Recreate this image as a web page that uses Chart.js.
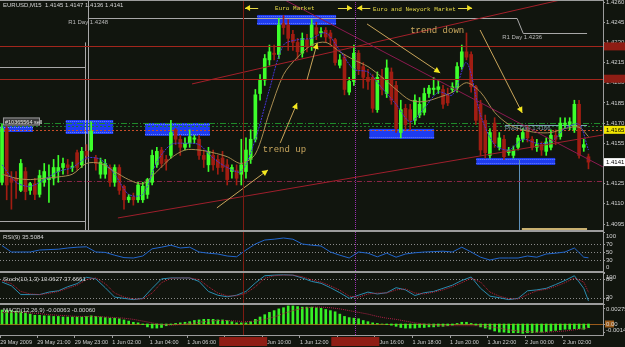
<!DOCTYPE html>
<html>
<head>
<meta charset="utf-8">
<script src="https://cdn.jsdelivr.net/npm/chart.js@4.4.1/dist/chart.umd.min.js"></script>
<style>
  html, body { margin: 0; padding: 0; background: #11150e; }
  #wrap { position: relative; width: 625px; height: 347px; }
</style>
</head>
<body>
<div id="wrap"><canvas id="mt4" width="625" height="347"></canvas></div>
<script>
// Tidsaxel (M15-staplar, index 0..125)
const timeLabels = ['29 May 2009', '29 May 21:00', '29 May 23:00', '1 Jun 02:00', '1 Jun 04:00', '1 Jun 06:00',
  '1 Jun 08:00', '1 Jun 10:00', '1 Jun 12:00', '1 Jun 14:00', '1 Jun 16:00', '1 Jun 18:00', '1 Jun 20:00',
  '1 Jun 22:00', '2 Jun 00:00', '2 Jun 02:00'];
const tickBars = [-0.4, 7.5, 15.5, 23.5, 31.5, 39.5, 47.5, 55.5, 63.5, 71.5, 79.5, 87.5, 95.5, 103.5, 111.5, 119.5];
const priceTicks = [1.4095, 1.4110, 1.4125, 1.4140, 1.4155, 1.4170, 1.4185, 1.4200, 1.4215, 1.4230, 1.4245, 1.4260];
const rsiTicks = [100, 70, 50, 30, 0];
const stochTicks = [100, 80, 20, 0];
const macdTicks = [0.00275, 0, -0.00146];
const macdTickLabels = ['0.00275', '0.00', '-0.00146'];

// EURUSD M15
const opens = [1.4126,1.4166,1.4129,1.4129,1.4120,1.4134,1.4120,1.4125,1.4117,1.4126,
  1.4128,1.4129,1.4134,1.4137,1.4139,1.4137,1.4148,1.4139,1.4149,1.4150,
  1.4144,1.4132,1.4132,1.4137,1.4126,1.4137,1.4123,1.4113,1.4115,1.4113,
  1.4113,1.4117,1.4126,1.4139,1.4150,1.4143,1.4146,1.4165,1.4158,1.4152,
  1.4155,1.4158,1.4158,1.4146,1.4139,1.4146,1.4143,1.4144,1.4139,1.4134,
  1.4135,1.4132,1.4134,1.4143,1.4158,1.4192,1.4202,1.4217,1.4222,1.4221,
  1.4244,1.4243,1.4236,1.4230,1.4222,1.4232,1.4227,1.4241,1.4237,1.4239,
  1.4237,1.4232,1.4213,1.4219,1.4193,1.4201,1.4222,1.4212,1.4204,1.4204,
  1.4180,1.4204,1.4192,1.4208,1.4198,1.4163,1.4181,1.4180,1.4172,1.4176,
  1.4178,1.4192,1.4195,1.4195,1.4195,1.4191,1.4195,1.4196,1.4212,1.4223,
  1.4221,1.4197,1.4184,1.4172,1.4146,1.4170,1.4152,1.4158,1.4148,1.4146,
  1.4152,1.4158,1.4165,1.4158,1.4152,1.4154,1.4149,1.4152,1.4161,1.4160,
  1.4169,1.4169,1.4165,1.4184,1.4152,1.4145];
const highs = [1.4169,1.4168,1.4134,1.4134,1.4143,1.4137,1.4126,1.4129,1.4135,1.4140,
  1.4139,1.4143,1.4146,1.4144,1.4143,1.4141,1.4150,1.4152,1.4154,1.4171,
  1.4146,1.4144,1.4143,1.4139,1.4139,1.4139,1.4124,1.4117,1.4118,1.4126,
  1.4126,1.4129,1.4150,1.4152,1.4152,1.4146,1.4172,1.4166,1.4161,1.4159,
  1.4165,1.4161,1.4161,1.4150,1.4152,1.4150,1.4146,1.4149,1.4143,1.4139,
  1.4139,1.4158,1.4159,1.4165,1.4195,1.4206,1.4221,1.4228,1.4228,1.4248,
  1.4250,1.4247,1.4239,1.4233,1.4237,1.4236,1.4247,1.4245,1.4241,1.4241,
  1.4239,1.4233,1.4221,1.4221,1.4204,1.4228,1.4224,1.4215,1.4210,1.4206,
  1.4208,1.4210,1.4217,1.4211,1.4201,1.4187,1.4184,1.4184,1.4191,1.4189,
  1.4196,1.4198,1.4204,1.4202,1.4198,1.4196,1.4200,1.4215,1.4228,1.4237,
  1.4223,1.4198,1.4187,1.4176,1.4166,1.4174,1.4163,1.4161,1.4152,1.4153,
  1.4161,1.4166,1.4168,1.4160,1.4158,1.4156,1.4159,1.4165,1.4165,1.4174,
  1.4174,1.4174,1.4187,1.4187,1.4158,1.4147];
const lows = [1.4124,1.4113,1.4106,1.4114,1.4119,1.4113,1.4117,1.4113,1.4115,1.4123,
  1.4111,1.4124,1.4126,1.4132,1.4132,1.4134,1.4135,1.4137,1.4143,1.4149,
  1.4135,1.4129,1.4129,1.4123,1.4123,1.4117,1.4106,1.4111,1.4109,1.4111,
  1.4111,1.4114,1.4124,1.4137,1.4137,1.4135,1.4144,1.4154,1.4146,1.4150,
  1.4152,1.4155,1.4143,1.4137,1.4134,1.4135,1.4132,1.4134,1.4124,1.4129,
  1.4124,1.4124,1.4129,1.4140,1.4156,1.4187,1.4198,1.4213,1.4217,1.4218,
  1.4236,1.4224,1.4224,1.4218,1.4219,1.4223,1.4224,1.4232,1.4234,1.4230,
  1.4228,1.4213,1.4211,1.4191,1.4191,1.4198,1.4206,1.4196,1.4195,1.4178,
  1.4178,1.4191,1.4189,1.4184,1.4163,1.4159,1.4165,1.4165,1.4169,1.4174,
  1.4176,1.4189,1.4191,1.4192,1.4181,1.4183,1.4193,1.4193,1.4210,1.4217,
  1.4193,1.4169,1.4146,1.4144,1.4144,1.4152,1.4150,1.4143,1.4146,1.4144,
  1.4150,1.4156,1.4156,1.4150,1.4149,1.4146,1.4146,1.4150,1.4154,1.4158,
  1.4166,1.4165,1.4163,1.4144,1.4149,1.4136];
const closes = [1.4166,1.4124,1.4126,1.4127,1.4140,1.4119,1.4125,1.4117,1.4131,1.4134,
  1.4129,1.4137,1.4137,1.4140,1.4137,1.4138,1.4137,1.4149,1.4146,1.4164,
  1.4140,1.4141,1.4140,1.4126,1.4137,1.4120,1.4113,1.4115,1.4113,1.4124,
  1.4123,1.4128,1.4146,1.4149,1.4140,1.4141,1.4163,1.4158,1.4152,1.4155,
  1.4160,1.4159,1.4146,1.4143,1.4149,1.4139,1.4137,1.4137,1.4128,1.4137,
  1.4129,1.4139,1.4150,1.4158,1.4191,1.4202,1.4218,1.4223,1.4221,1.4243,
  1.4241,1.4233,1.4230,1.4223,1.4233,1.4227,1.4243,1.4236,1.4238,1.4234,
  1.4233,1.4215,1.4217,1.4195,1.4201,1.4222,1.4210,1.4204,1.4201,1.4181,
  1.4204,1.4195,1.4211,1.4187,1.4166,1.4180,1.4169,1.4172,1.4187,1.4184,
  1.4192,1.4196,1.4196,1.4197,1.4184,1.4185,1.4197,1.4212,1.4223,1.4219,
  1.4197,1.4172,1.4150,1.4148,1.4163,1.4155,1.4159,1.4145,1.4150,1.4150,
  1.4159,1.4163,1.4159,1.4152,1.4154,1.4150,1.4156,1.4161,1.4158,1.4170,
  1.4170,1.4171,1.4184,1.4146,1.4154,1.4141];

// Glidande medelvärden, avlästa var 3:e stapel
const maBars = [...Array(42).keys()].map(k => k * 3).concat([125]);
const slowMa = [1.4132,1.4129,1.4128,1.4129,1.4130,1.4132,1.4140,1.4140,1.4134,1.4128,
  1.4125,1.4134,1.4144,1.4150,1.4150,1.4148,1.4145,1.4140,1.4147,1.4178,
  1.4206,1.4219,1.4228,1.4230,1.4223,1.4217,1.4212,1.4204,1.4195,1.4187,
  1.4186,1.4189,1.4193,1.4200,1.4193,1.4178,1.4169,1.4165,1.4163,1.4163,
  1.4166,1.4167,1.4160];
const fastMa = [1.4139,1.4126,1.4123,1.4128,1.4134,1.4137,1.4144,1.4143,1.4132,1.4117,
  1.4117,1.4141,1.4154,1.4155,1.4154,1.4144,1.4137,1.4134,1.4158,1.4195,
  1.4228,1.4232,1.4233,1.4237,1.4224,1.4210,1.4208,1.4196,1.4184,1.4171,
  1.4181,1.4193,1.4191,1.4215,1.4176,1.4154,1.4150,1.4158,1.4155,1.4156,
  1.4166,1.4169,1.4150];

// Indikatorer, avlästa var 2:a stapel
const subBars = [...Array(63).keys()].map(k => k * 2).concat([125]);
const rsi = [66,50,50,50,55,56,57,60,62,63, 50,49,42,36,35,40,58,62,67,60,
  62,50,47,45,40,38,55,70,80,82, 85,82,70,67,65,50,42,35,50,47,
  38,47,37,45,48,50,51,52,50,62, 50,37,30,35,35,35,40,37,45,47,
  50,60,37,35.5];
const stochMain = [70,58,30,30,30,38,42,55,65,85, 80,52,22,18,14,18,50,80,83,83,
  83,72,40,28,23,28,40,67,90,92, 93,92,83,72,66,52,36,18,28,38,
  32,36,52,45,27,36,40,50,60,75, 86,50,25,20,14,18,42,45,50,62,
  75,90,50,10.06];
const stochSignal = [75,65,40,32,30,34,40,50,60,78, 83,65,35,22,16,16,35,68,82,83,
  83,78,55,35,26,26,34,55,82,90, 92,92,87,77,70,58,44,25,22,32,
  35,35,45,48,35,32,38,45,55,68, 82,70,38,25,17,16,30,42,47,56,
  68,83,70,37.67];
const macdSignal = [0.0020,0.0020,0.0020,0.0019,0.0018,0.0016,0.0015,0.0014,0.0013,0.0013,
  0.0013,0.0012,0.0011,0.0010,0.0008,0.0005,0.0002,-0.0001,-0.0002,-0.0001,
  0.0001,0.0003,0.0005,0.0006,0.0006,0.0005,0.0004,0.0005,0.0008,0.0012,
  0.0018,0.0023,0.0027,0.0029,0.0029,0.0028,0.0026,0.0023,0.0020,0.0017,
  0.0013,0.0010,0.0008,0.0005,0.0002,0.0000,-0.0002,-0.0003,-0.0003,-0.0003,
  -0.0003,-0.0003,-0.0005,-0.0007,-0.0010,-0.0012,-0.0013,-0.0014,-0.0014,-0.0013,
  -0.0012,-0.0010,-0.0008,-0.0006];
const macdMain = [0.0024,0.0024,0.0023,0.0022,0.0021,0.0019,0.0017,0.0015,0.0015,0.0014,
  0.0014,0.0013,0.0013,0.0012,0.0012,0.0012,0.0012,0.0012,0.0013,0.0014,
  0.0013,0.0012,0.0011,0.0010,0.0010,0.0009,0.0007,0.0005,0.0003,0.0002,
  -0.0001,-0.0005,-0.0007,-0.0007,-0.0006,-0.0003,-0.0001,0.0001,0.0002,0.0003,
  0.0004,0.0006,0.0007,0.0008,0.0008,0.0008,0.0007,0.0007,0.0006,0.0004,
  0.0002,0.0002,0.0002,0.0004,0.0008,0.0012,0.0016,0.0020,0.0023,0.0026,
  0.0028,0.0031,0.0031,0.0030,0.0029,0.0029,0.0029,0.0028,0.0027,0.0025,
  0.0023,0.0021,0.0017,0.0013,0.0011,0.0010,0.0009,0.0006,0.0004,0.0002,
  0.0001,0.0000,-0.0001,-0.0002,-0.0004,-0.0006,-0.0007,-0.0007,-0.0007,-0.0006,
  -0.0006,-0.0005,-0.0005,-0.0004,-0.0004,-0.0003,-0.0002,0.0001,0.0003,0.0003,
  0.0001,-0.0002,-0.0005,-0.0007,-0.0009,-0.0012,-0.0014,-0.0014,-0.0015,-0.0015,
  -0.0015,-0.0016,-0.0015,-0.0015,-0.0014,-0.0014,-0.0013,-0.0012,-0.0011,-0.0010,
  -0.0009,-0.0009,-0.0008,-0.0008,-0.0009,-0.00063];

// Ritade objekt i (stapel, pris)
const zones = [[-0.43, 6.6, 1.41679, 1.41634], [13.6, 23.7, 1.41723, 1.41619], [30.5, 44.3, 1.41701, 1.41605],
  [54.4, 71.2, 1.42504, 1.42429], [78.3, 92.1, 1.41657, 1.41582], [101.1, 117.9, 1.41441, 1.41389]];
const trendLines = [[24.7, 1.40995, 128.1, 1.41612, '#9e1f2c'], [40.5, 1.41991, 119, 1.42615, '#a3202a'],
  [60.3, 1.42615, 128.1, 1.41374, '#8c1a50']];
const arrows = [[45.8, 1.41070, 56.7, 1.41352], [59.3, 1.41553, 62.9, 1.41850], [65.0, 1.42021, 67.2, 1.42296],
  [77.8, 1.42437, 93.4, 1.42073], [101.9, 1.42392, 110.9, 1.41775]];
const marketArrows = [[51.8, 54.6, -1], [71.6, 74.6, 1], [75.7, 78.5, -1], [97.2, 100.2, 1]];
const cursorBars = [51.4, 75.3];

const MONO = '"Liberation Mono", "DejaVu Sans Mono", monospace';
const SANS = '"Liberation Sans", Arial, sans-serif';
const labels = [
  ['Euro Market', 58.2, 1.42556, '6px ' + MONO, '#e8da4a'],
  ['Euro and Newyork Market', 79.1, 1.42548, '6px ' + MONO, '#e8da4a'],
  ['trend down', 87, 1.42385, '9px ' + MONO, '#c9a75e'],
  ['trend up', 55.6, 1.4150, '9px ' + MONO, '#c9a75e'],
  ['R1 Day 1.4248', 14.1, 1.42452, '6px ' + SANS, '#b8b8b8'],
  ['R1 Day 1.4236', 106.6, 1.42340, '6px ' + SANS, '#b8b8b8'],
  ['Pivot Day 1.4166', 107.2, 1.41664, '6px ' + SANS, '#7f93a8']
];

const BULL = '#3dff2b', BEAR = '#a11d12';
const candleColors = closes.map((c, i) => c >= opens[i] ? BULL : BEAR);

function seg(ctx, x1, y1, x2, y2) { ctx.beginPath(); ctx.moveTo(x1, y1); ctx.lineTo(x2, y2); ctx.stroke(); }
function head(ctx, x1, y1, x2, y2, len, half) {
  const a = Math.atan2(y2 - y1, x2 - x1), c = Math.cos(a), s = Math.sin(a);
  ctx.beginPath();
  ctx.moveTo(x2, y2);
  ctx.lineTo(x2 - len * c + half * s, y2 - len * s - half * c);
  ctx.lineTo(x2 - len * c - half * s, y2 - len * s + half * c);
  ctx.closePath(); ctx.fill();
}
const crisp = v => Math.round(v) + 0.5;

const overlay = {
  id: 'overlay',
  beforeDraw(chart) {
    const ctx = chart.ctx;
    ctx.save(); ctx.fillStyle = '#11150e'; ctx.fillRect(0, 0, chart.width, chart.height); ctx.restore();
  },
  beforeDatasetsDraw(chart) {
    const {ctx, chartArea: ca, scales: {x, y, yRsi, ySto, yMacd}} = chart;
    const px = v => x.getPixelForValue(v), py = v => y.getPixelForValue(v);
    ctx.save();
    ctx.beginPath(); ctx.rect(ca.left, y.top, ca.right - ca.left, y.bottom - y.top); ctx.clip();
    // zoner
    zones.forEach(([b1, b2, p1, p2]) => {
      const x1 = px(b1), x2 = px(b2), y1 = py(p1), y2 = py(p2);
      ctx.fillStyle = '#1e3cf0'; ctx.fillRect(x1, y1, x2 - x1, y2 - y1);
      ctx.strokeStyle = '#7088ff'; ctx.lineWidth = 1; ctx.setLineDash([1, 1]);
      seg(ctx, x1, crisp(y1 + 1), x2, crisp(y1 + 1));
      seg(ctx, x1, crisp(y2 - 2), x2, crisp(y2 - 2));
      ctx.setLineDash([]);
    });
    // pivotlinjer
    ctx.strokeStyle = '#a8a8a8'; ctx.lineWidth = 1;
    ctx.beginPath();
    ctx.moveTo(px(-0.43), crisp(py(1.4212))); ctx.lineTo(crisp(px(17.7)), crisp(py(1.4212)));
    ctx.moveTo(crisp(px(17.7)), py(1.4230)); ctx.lineTo(crisp(px(17.7)), y.bottom);
    ctx.moveTo(px(-0.43), crisp(py(1.4097))); ctx.lineTo(crisp(px(17.7)), crisp(py(1.4097)));
    ctx.moveTo(crisp(px(18.3)), y.top); ctx.lineTo(crisp(px(18.3)), y.bottom);
    ctx.moveTo(px(18.3), crisp(py(1.4248))); ctx.lineTo(px(109.8), crisp(py(1.4248)));
    ctx.lineTo(px(111.1), crisp(py(1.4237))); ctx.lineTo(px(124.7), crisp(py(1.4237)));
    ctx.stroke();
    ctx.strokeStyle = '#5d8fb8';
    seg(ctx, crisp(px(110.2)), py(1.41426), crisp(px(110.2)), y.bottom);
    ctx.strokeStyle = '#7d9cb8';
    seg(ctx, px(107.2), crisp(py(1.41686)), px(124.7), crisp(py(1.41686)));
    ctx.strokeStyle = '#c8b070'; ctx.lineWidth = 2;
    seg(ctx, px(110.8), y.bottom - 2, px(124.7), y.bottom - 2);
    // horisontella nivåer
    ctx.lineWidth = 1;
    const hl = (p, color, dash, from) => {
      ctx.strokeStyle = color; ctx.setLineDash(dash);
      seg(ctx, from === undefined ? ca.left : px(from), crisp(py(p)), ca.right, crisp(py(p)));
    };
    hl(1.4127, '#8a2448', [5, 2, 1, 2], 11.7);
    hl(1.4170, '#1f8a2a', [6, 2, 1, 2]);
    hl(1.4168, '#1f7a2a', [2, 2]);
    hl(1.4165, '#c8502a', [2, 2]);
    ctx.setLineDash([]);
    ctx.restore();

    // nivåer i delfönstren
    ctx.save();
    ctx.strokeStyle = '#8a8a8a'; ctx.lineWidth = 1; ctx.setLineDash([1, 2]);
    [70, 50, 30].forEach(v => seg(ctx, ca.left, crisp(yRsi.getPixelForValue(v)), ca.right, crisp(yRsi.getPixelForValue(v))));
    [80, 20].forEach(v => seg(ctx, ca.left, crisp(ySto.getPixelForValue(v)), ca.right, crisp(ySto.getPixelForValue(v))));
    ctx.setLineDash([]);
    ctx.strokeStyle = '#9a5a1a';
    seg(ctx, ca.left, crisp(yMacd.getPixelForValue(0)), ca.right, crisp(yMacd.getPixelForValue(0)));
    ctx.restore();
  },
  afterDatasetsDraw(chart) {
    const {ctx, chartArea: ca, scales: {x, y, yRsi, ySto, yMacd}} = chart;
    const px = v => x.getPixelForValue(v), py = v => y.getPixelForValue(v);
    ctx.save();
    ctx.beginPath(); ctx.rect(ca.left, y.top, ca.right - ca.left, y.bottom - y.top); ctx.clip();
    // röda horisontella linjer
    ctx.strokeStyle = '#a3261c'; ctx.lineWidth = 1;
    [1.4227, 1.4203].forEach(p => seg(ctx, ca.left, crisp(py(p)), ca.right, crisp(py(p))));
    // trendlinjer
    trendLines.forEach(([b1, p1, b2, p2, c]) => { ctx.strokeStyle = c; seg(ctx, px(b1), py(p1), px(b2), py(p2)); });
    // pilar
    arrows.forEach(([b1, p1, b2, p2]) => {
      const x1 = px(b1), y1 = py(p1), x2 = px(b2), y2 = py(p2);
      ctx.strokeStyle = '#c9a55a'; seg(ctx, x1, y1, x2, y2);
      ctx.fillStyle = '#f4e81e'; head(ctx, x1, y1, x2, y2, 6, 3);
    });
    const my = py(1.42556);
    marketArrows.forEach(([b1, b2, dir]) => {
      const a = px(b1), b = px(b2);
      ctx.strokeStyle = '#e8da4a'; seg(ctx, a, crisp(my), b, crisp(my));
      ctx.fillStyle = '#f0e020';
      if (dir < 0) head(ctx, b, my, a, my, 5, 3); else head(ctx, a, my, b, my, 5, 3);
    });
    // texter
    ctx.textBaseline = 'middle'; ctx.textAlign = 'left';
    labels.forEach(([t, b, p, f, c]) => { ctx.font = f; ctx.fillStyle = c; ctx.fillText(t, px(b), py(p)); });
    // order-etikett
    const ox = px(0.2), oy = py(1.41712);
    ctx.fillStyle = '#3a3a3a'; ctx.fillRect(ox, oy - 4, 37, 8);
    ctx.strokeStyle = '#9a9a9a'; ctx.strokeRect(ox + 0.5, oy - 3.5, 36, 7);
    ctx.font = '5.5px ' + SANS; ctx.fillStyle = '#e0e0e0'; ctx.fillText('#10365564 sell', ox + 2, oy + 0.5);
    ctx.restore();

    ctx.save();
    // markörlinjer
    ctx.lineWidth = 1;
    ctx.strokeStyle = '#7e1b12'; seg(ctx, crisp(px(cursorBars[0])), ca.top, crisp(px(cursorBars[0])), ca.bottom);
    ctx.strokeStyle = '#9a2fb0'; ctx.setLineDash([1, 1]);
    seg(ctx, crisp(px(cursorBars[1])), ca.top, crisp(px(cursorBars[1])), ca.bottom);
    ctx.setLineDash([]);
    // ramar
    ctx.strokeStyle = '#9c9c9c';
    ctx.lineWidth = 2;
    [yRsi, ySto, yMacd].forEach(s => seg(ctx, ca.left, s.top, ca.right, s.top));
    ctx.lineWidth = 1;
    seg(ctx, ca.left, 0.5, ca.right, 0.5);
    seg(ctx, ca.left, crisp(ca.bottom), ca.right + 1, crisp(ca.bottom));
    seg(ctx, crisp(ca.right), 0, crisp(ca.right), ca.bottom);
    // rubriker
    ctx.font = '6px ' + SANS; ctx.fillStyle = '#d4d4d4'; ctx.textBaseline = 'middle'; ctx.textAlign = 'left';
    ctx.fillText('EURUSD,M15  1.4145 1.4147 1.4136 1.4141', ca.left + 3, y.top + 5);
    ctx.fillText('RSI(9) 35.5084', ca.left + 3, yRsi.top + 6);
    ctx.fillText('Stoch(10,1,3) 10.0627 37.6661', ca.left + 3, ySto.top + 7);
    ctx.fillText('MACD(12,26,9) -0.00063 -0.00060', ca.left + 3, yMacd.top + 6);
    // axeletiketter i delfönstren
    const axisLabel = (s, v, t) => {
      const yy = Math.min(Math.max(s.getPixelForValue(v), s.top + 5), s.bottom - 5);
      seg(ctx, ca.right, crisp(s.getPixelForValue(v)), ca.right + 2, crisp(s.getPixelForValue(v)));
      ctx.fillText(t, ca.right + 3, yy);
    };
    ctx.strokeStyle = '#9c9c9c';
    rsiTicks.forEach(v => axisLabel(yRsi, v, String(v)));
    stochTicks.forEach(v => axisLabel(ySto, v, String(v)));
    ctx.fillStyle = '#9a5a1a';
    ctx.fillRect(ca.right + 2, yMacd.getPixelForValue(0) - 3.5, 9, 7);
    ctx.fillStyle = '#d4d4d4';
    macdTicks.forEach((v, i) => axisLabel(yMacd, v, macdTickLabels[i]));
    ctx.restore();
  },
  afterDraw(chart) {
    const {ctx, chartArea: ca, scales: {x, y}} = chart;
    const px = v => x.getPixelForValue(v), py = v => y.getPixelForValue(v);
    ctx.save();
    // tidsmarkörer
    ctx.fillStyle = '#8e1d14';
    cursorBars.forEach(b => ctx.fillRect(px(b) - 24, ca.bottom + 2, 48, 9));
    // prismarkörer
    [1.4227, 1.4203].forEach(p => ctx.fillRect(ca.right + 1, py(p) - 4, 22, 8));
    ctx.font = '6px ' + SANS; ctx.textBaseline = 'middle'; ctx.textAlign = 'left';
    [[1.4165, '#f2e600'], [1.4141, '#ffffff']].forEach(([p, c]) => {
      ctx.fillStyle = c; ctx.fillRect(ca.right + 1, py(p) - 4, 22, 8);
      ctx.fillStyle = '#000000'; ctx.fillText(p.toFixed(4), ca.right + 3, py(p) + 0.5);
    });
    ctx.restore();
  }
};

const fixWidth = s => { s.width = 22; s.paddingTop = 0; s.paddingBottom = 0; };
const hiddenAxis = (weight, min, max, w) => ({
  type: 'linear', position: 'right', stack: 'panes', stackWeight: w, weight, min, max,
  ticks: { display: false }, grid: { display: false }, border: { display: false }, afterFit: fixWidth
});

Chart.defaults.font.family = SANS;

new Chart(document.getElementById('mt4'), {
  type: 'bar',
  data: {
    datasets: [
      { type: 'line', yAxisID: 'y', order: 0, data: maBars.map((b, i) => ({ x: b, y: fastMa[i] })),
        borderColor: '#4634dc', borderWidth: 1, borderDash: [2, 1], pointRadius: 0, tension: 0.3 },
      { type: 'line', yAxisID: 'y', order: 0, data: maBars.map((b, i) => ({ x: b, y: slowMa[i] })),
        borderColor: '#a88c50', borderWidth: 1, pointRadius: 0, tension: 0.3 },
      { yAxisID: 'y', order: 1, data: closes.map((c, i) => ({ x: i, y: [opens[i], c] })),
        backgroundColor: candleColors, barThickness: 3, maxBarThickness: 3, grouped: false, minBarLength: 1 },
      { yAxisID: 'y', order: 2, data: lows.map((l, i) => ({ x: i, y: [l, highs[i]] })),
        backgroundColor: candleColors, barThickness: 1, maxBarThickness: 1, grouped: false },
      { type: 'line', yAxisID: 'yRsi', order: 0, data: subBars.map((b, i) => ({ x: b, y: rsi[i] })),
        borderColor: '#2266cc', borderWidth: 1, pointRadius: 0 },
      { type: 'line', yAxisID: 'ySto', order: 0, data: subBars.map((b, i) => ({ x: b, y: stochSignal[i] })),
        borderColor: '#c0203c', borderWidth: 1, borderDash: [1, 1], pointRadius: 0 },
      { type: 'line', yAxisID: 'ySto', order: 0, data: subBars.map((b, i) => ({ x: b, y: stochMain[i] })),
        borderColor: '#2a8cb0', borderWidth: 1, pointRadius: 0 },
      { type: 'line', yAxisID: 'yMacd', order: 0, data: subBars.map((b, i) => ({ x: b, y: macdSignal[i] })),
        borderColor: '#b02048', borderWidth: 1, borderDash: [1, 1], pointRadius: 0 },
      { yAxisID: 'yMacd', order: 1, data: macdMain.map((v, i) => ({ x: i, y: v })),
        backgroundColor: '#36f026', barThickness: 2, maxBarThickness: 2, grouped: false }
    ]
  },
  options: {
    responsive: false,
    animation: false,
    devicePixelRatio: 1,
    events: [],
    layout: { padding: 0 },
    plugins: { legend: { display: false }, tooltip: { enabled: false } },
    scales: {
      x: {
        type: 'linear', position: 'bottom', min: -0.43, max: 128.1, offset: false,
        afterBuildTicks: s => { s.ticks = tickBars.map(v => ({ value: v })); },
        afterFit: s => { s.height = 12; s.paddingLeft = 0; s.paddingRight = 0; },
        ticks: { autoSkip: false, maxRotation: 0, minRotation: 0, align: 'start', padding: 1,
          color: '#cfcfcf', font: { size: 5.5 }, callback: (v, i) => timeLabels[i] },
        grid: { display: true, drawOnChartArea: false, tickLength: 3, color: '#9c9c9c', offset: false },
        border: { display: false }
      },
      y: {
        type: 'linear', position: 'right', stack: 'panes', stackWeight: 231, weight: 0,
        min: 1.40898, max: 1.42615,
        afterBuildTicks: s => { s.ticks = priceTicks.map(v => ({ value: v })); },
        afterFit: fixWidth,
        ticks: { autoSkip: false, padding: 1, color: '#d4d4d4', font: { size: 6 }, callback: v => v.toFixed(4) },
        grid: { display: true, drawOnChartArea: false, tickLength: 2, color: '#9c9c9c' },
        border: { display: false }
      },
      yRsi: hiddenAxis(1, 0, 102.5, 41),
      ySto: hiddenAxis(2, 0, 102, 32),
      yMacd: hiddenAxis(3, -0.00189, 0.003437, 31)
    }
  },
  plugins: [overlay]
});
</script>
</body>
</html>
